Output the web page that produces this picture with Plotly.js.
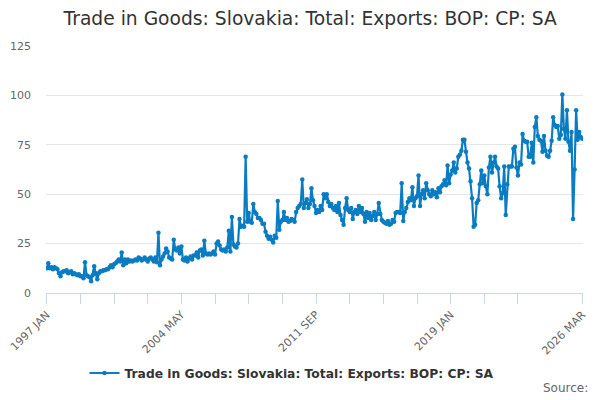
<!DOCTYPE html>
<html>
<head>
<meta charset="utf-8">
<script src="https://cdn.plot.ly/plotly-3.0.1.min.js"></script>
<style>html,body{margin:0;padding:0;background:#fff;}#chart{width:600px;height:400px;}</style>
</head>
<body>
<div id="chart"></div>
<script>
var chartTitle = 'Trade in Goods: Slovakia: Total: Exports: BOP: CP: SA';
var seriesName = 'Trade in Goods: Slovakia: Total: Exports: BOP: CP: SA';
var startYear = 1997;
var monthNames = ['JAN','FEB','MAR','APR','MAY','JUN','JUL','AUG','SEP','OCT','NOV','DEC'];
var tickLabels = ['1997 JAN','2004 MAY','2011 SEP','2019 JAN','2026 MAR'];
var yTicks = [0, 25, 50, 75, 100, 125];

// Monthly values, Jan 1997 .. Mar 2026
var values = [
  12.5, 15, 12.5, 13, 12, 13, 12.5, 12, 10, 8.5, 10.5, 11,
  11, 11.5, 10, 10.5, 11, 9.5, 10, 9.5, 9, 9.5, 8.5, 8.5,
  7.5, 15.5, 9, 8.5, 8, 6, 9, 13.5, 10, 7, 10, 11,
  11, 11.5, 11.5, 12, 12, 13, 14, 13, 14.5, 15, 16, 17,
  16, 20.5, 14, 17, 15, 17, 16, 16.5, 16, 16.5, 17, 16.5,
  18, 17.5, 16.5, 17, 18, 17, 16, 17.5, 18, 17, 16, 18,
  15.5, 30.5, 14, 17, 18.5, 20, 22.5, 21, 18, 17.5, 17, 27,
  22, 21.5, 23, 20, 23.5, 17, 16.5, 18, 16, 17.5, 18.5, 17,
  19, 19, 20.5, 18, 21.5, 22, 19, 26.5, 20, 19.5, 20, 19.5,
  20, 21, 19.5, 25, 26, 24, 22, 21.5, 22, 21, 23, 31.5,
  21, 38.5, 24.5, 23.5, 23, 25, 37.5, 33.5, 34, 33.5, 69, 36,
  40.5, 36, 35.5, 45, 41, 40, 38, 38, 37, 35, 35, 31,
  29, 27.5, 28.5, 27, 25.5, 29, 28, 46.5, 32, 36, 37, 41,
  37, 38, 36, 36.5, 37.5, 37, 36, 41, 43, 44, 45, 57.5,
  43, 45.5, 47.5, 43, 45, 53, 47, 44, 40.5, 42, 41, 44,
  42, 50, 48, 50, 46, 44, 45, 43, 42, 44, 41, 45.5,
  39.5, 37, 34.5, 43, 48, 42, 41, 43, 37.5, 41, 42, 40,
  44, 41, 43, 40, 36, 41, 38, 40.5, 37, 39, 41, 37,
  40, 45.5, 40, 37, 36, 35.5, 35, 36.5, 34.5, 35, 37, 36,
  40.5, 41, 41, 40.5, 55.5, 36.5, 41, 43, 46, 48, 47, 53.5,
  44, 48, 49, 59.5, 44, 50, 52, 48, 55.5, 52, 50, 49,
  52, 50, 51, 48.5, 53, 51, 54, 55, 57, 54.5, 64.5, 55.5,
  60, 62, 66, 61, 63, 69, 70, 72, 77.5, 77.5, 71.5, 66,
  63, 56.5, 48, 33.5, 34.5, 45.5, 47, 55, 62, 55.5, 59.5, 54,
  50, 63.5, 69, 61, 66, 69, 64, 63, 54, 48, 50.5, 64,
  39.5, 55, 64, 64, 64, 73, 74, 63.5, 59.5, 66, 65, 80.5,
  77, 76.5, 76.5, 69, 69, 76, 66, 84, 89, 79.5, 77.5, 77,
  71.5, 79.5, 72, 69.5, 69, 72, 77, 89, 85, 84, 84.5, 78,
  80, 100.5, 83, 78, 92.5, 76.5, 72, 81.5, 37.5, 62.5, 92.5, 77.5,
  81.5, 79, 78
];

var categories = values.map(function (v, i) {
  return (startYear + Math.floor(i / 12)) + ' ' + monthNames[i % 12];
});

// tick marks every 22 months plus the final month
var tickVals = [];
for (var k = 0; k <= values.length - 1 - 22; k += 22) tickVals.push(categories[k]);
tickVals.push(categories[categories.length - 1]);
var tickText = tickVals.map(function (c) { return tickLabels.indexOf(c) >= 0 ? c : ''; });

var trace = {
  x: categories,
  y: values,
  type: 'scatter',
  mode: 'lines+markers',
  name: seriesName,
  line: {color: '#0a7cc1', width: 2.2},
  marker: {color: '#0a7cc1', size: 4.5}
};

var layout = {
  width: 600, height: 400,
  paper_bgcolor: '#ffffff', plot_bgcolor: '#ffffff',
  margin: {l: 46, r: 17, t: 46, b: 107},
  font: {family: 'DejaVu Sans, sans-serif', color: '#666666', size: 11},
  title: {
    text: chartTitle,
    font: {family: 'DejaVu Sans, sans-serif', size: 18.7, color: '#333333'},
    x: 0.517, xanchor: 'center', xref: 'container',
    y: 1 - 18 / 400, yanchor: 'middle', yref: 'container'
  },
  xaxis: {
    type: 'category',
    range: [-0.5, values.length - 0.5],
    tickmode: 'array', tickvals: tickVals, ticktext: tickText,
    tickangle: -45,
    ticks: 'outside', ticklen: 10, tickcolor: '#ccd6eb', tickwidth: 1,
    showline: true, linecolor: '#ccd6eb', linewidth: 1,
    showgrid: false, zeroline: false,
    tickfont: {size: 11, color: '#666666'}
  },
  yaxis: {
    range: [0, 125],
    tickmode: 'array', tickvals: yTicks,
    showgrid: true, gridcolor: '#e6e6e6', gridwidth: 1,
    zeroline: false, showline: false, ticks: '',
    ticklabelstandoff: 14,
    tickfont: {size: 11, color: '#666666'}
  },
  showlegend: true,
  legend: {
    orientation: 'h',
    x: 0.5 - 8 / 600, xanchor: 'center', xref: 'container',
    y: 1 - 373 / 400, yanchor: 'middle', yref: 'container',
    font: {family: 'DejaVu Sans, sans-serif', size: 12.3, color: '#333333', weight: 'bold'}
  },
  annotations: [{
    text: 'Source:', showarrow: false,
    xref: 'paper', yref: 'paper',
    x: (590 - 46) / 537, xanchor: 'right',
    y: (293 - 388) / 247, yanchor: 'middle',
    font: {family: 'DejaVu Sans, sans-serif', size: 12, color: '#666666'}
  }]
};

Plotly.newPlot('chart', [trace], layout, {displayModeBar: false, staticPlot: true});
</script>
</body>
</html>
